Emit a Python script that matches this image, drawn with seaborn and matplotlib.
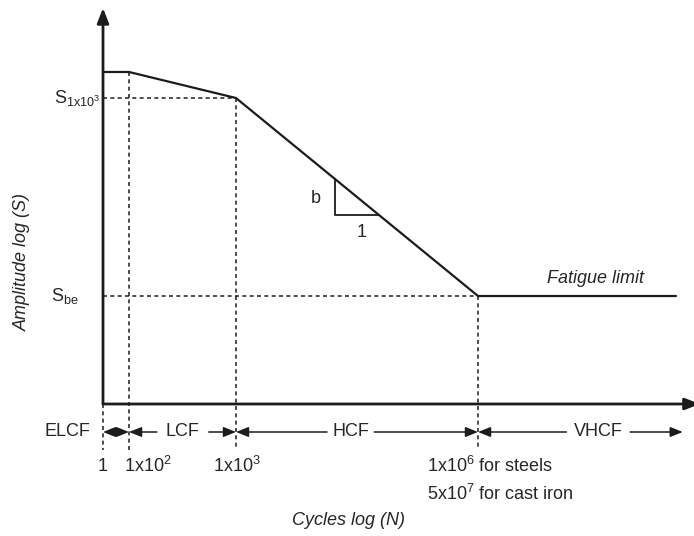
import numpy as np
import pandas as pd
import matplotlib
matplotlib.use("Agg")
import matplotlib.pyplot as plt
import seaborn as sns

# Schematic S-N curve, in axis units (0-100 on both axes)
curve_n = [0.0, 4.4, 22.5, 63.45, 96.95]          # schematic log(N) positions
curve_s = [83.84, 83.84, 77.27, 27.27, 27.27]      # schematic log(S) amplitudes

# Region boundaries on the N axis: 1, 1x10^2, 1x10^3, 1x10^6 (steels)
bound_n = [0.0, 4.4, 22.5, 63.45]
bound_labels = ["1", r"1x10$^{\mathregular{2}}$", r"1x10$^{\mathregular{3}}$"]
steel_label = r"1x10$^{\mathregular{6}}$ for steels"
iron_label = r"5x10$^{\mathregular{7}}$ for cast iron"

regions = ["ELCF", "LCF", "HCF", "VHCF"]

s_levels = [77.27, 27.27]
s_labels = [r"$\mathregular{S_{1x10^{3}}}$", r"$\mathregular{S_{be}}$"]

# slope triangle on the HCF branch
tri_n = [39.26, 46.7]

sns.set_theme(style="white")
plt.rcParams["font.family"] = ["Liberation Sans", "DejaVu Sans"]
plt.rcParams["mathtext.fontset"] = "custom"
plt.rcParams["mathtext.rm"] = "Liberation Sans"
plt.rcParams["mathtext.it"] = "Liberation Sans:italic"

INK = "#1c1c1c"
TXT = "#262626"
FS = 13

fig = plt.figure(figsize=(6.94, 5.36), dpi=100)
fig.patch.set_facecolor("white")
ax = fig.add_axes([103 / 694, (536 - 404) / 536, 591 / 694, 396 / 536])
ax.set_xlim(0, 100)
ax.set_ylim(0, 100)
ax.axis("off")

# axes drawn as arrows
ax.annotate("", xy=(0, 1.0), xytext=(0, 0), xycoords="axes fraction",
            arrowprops=dict(arrowstyle="-|>,head_length=0.9,head_width=0.35",
                            mutation_scale=10, color=INK, lw=2.0,
                            shrinkA=0, shrinkB=0))
ax.annotate("", xy=(1.01, 0), xytext=(0, 0), xycoords="axes fraction",
            arrowprops=dict(arrowstyle="-|>,head_length=0.9,head_width=0.35",
                            mutation_scale=10, color=INK, lw=2.0,
                            shrinkA=0, shrinkB=0), annotation_clip=False)

# S-N curve
df = pd.DataFrame({"n": curve_n, "s": curve_s})
sns.lineplot(data=df, x="n", y="s", sort=False, estimator=None,
             color=INK, lw=1.6, ax=ax)

dash = (0, (2.6, 2.2))
# horizontal guide lines to the S axis
for s_val, n_val in zip(s_levels, [curve_n[2], curve_n[3]]):
    ax.plot([0, n_val], [s_val, s_val], color=INK, lw=1.1, ls=dash)

# vertical guide lines down through the region row
row_y = -7.07
drop_y = -11.6
for n_val in bound_n:
    top = np.interp(n_val, curve_n, curve_s) if n_val > 0 else 0
    ax.plot([n_val, n_val], [top, drop_y], color=INK, lw=1.1, ls=dash,
            clip_on=False)

# slope triangle
tri_top = np.interp(tri_n[0], curve_n, curve_s)
tri_bot = np.interp(tri_n[1], curve_n, curve_s)
ax.plot([tri_n[0], tri_n[0], tri_n[1]], [tri_top, tri_bot, tri_bot],
        color=INK, lw=1.3)
ax.text(36.0, 52.0, "b", fontsize=FS, color=TXT, ha="center", va="center")
ax.text(43.8, 43.4, "1", fontsize=FS, color=TXT, ha="center", va="center")

ax.text(83.4, 31.8, "Fatigue limit", fontsize=FS, color=TXT, style="italic",
        ha="center", va="center")

# S labels
ax.text(-0.5, s_levels[0], s_labels[0], fontsize=FS, color=TXT,
        ha="right", va="center", clip_on=False)
ax.text(-4.2, s_levels[1], s_labels[1], fontsize=FS, color=TXT,
        ha="right", va="center", clip_on=False)

# region arrows
def arrow(x0, x1, style="-|>"):
    ax.annotate("", xy=(x1, row_y), xytext=(x0, row_y), xycoords="data",
                arrowprops=dict(arrowstyle=style + ",head_length=0.75,head_width=0.3",
                                mutation_scale=10, color=INK, lw=1.1,
                                shrinkA=0, shrinkB=0),
                annotation_clip=False)

# ELCF: label outside, double arrow inside
ax.text(-2.2, row_y, regions[0], fontsize=FS, color=TXT, ha="right",
        va="center", clip_on=False)
arrow(bound_n[0], bound_n[1], "<|-|>")

# LCF
arrow(9.1, bound_n[1])
ax.text(13.5, row_y, regions[1], fontsize=FS, color=TXT, ha="center", va="center")
arrow(17.9, bound_n[2])

# HCF
arrow(37.9, bound_n[2])
ax.text(41.9, row_y, regions[2], fontsize=FS, color=TXT, ha="center", va="center")
arrow(45.9, bound_n[3])

# VHCF
arrow(78.4, bound_n[3])
ax.text(83.8, row_y, regions[3], fontsize=FS, color=TXT, ha="center", va="center")
arrow(89.2, 98.1)

# N labels
tick_y = -15.66
tick_x = [0.0, 7.6, 22.7]
for x_val, lab in zip(tick_x, bound_labels):
    ax.text(x_val, tick_y, lab, fontsize=FS, color=TXT, ha="center",
            va="center", clip_on=False)
ax.text(54.8, tick_y, steel_label, fontsize=FS, color=TXT, ha="left", va="center")
ax.text(54.8, -22.7, iron_label, fontsize=FS, color=TXT, ha="left", va="center")

# axis titles
ax.text(41.6, -29.5, "Cycles log (N)", fontsize=FS, color=TXT, style="italic",
        ha="center", va="center", clip_on=False)
ax.text(-13.7, 35.9, "Amplitude log (S)", fontsize=FS, color=TXT, style="italic",
        rotation=90, ha="center", va="center", clip_on=False)

fig.savefig("out.png", dpi=100, facecolor="white")
